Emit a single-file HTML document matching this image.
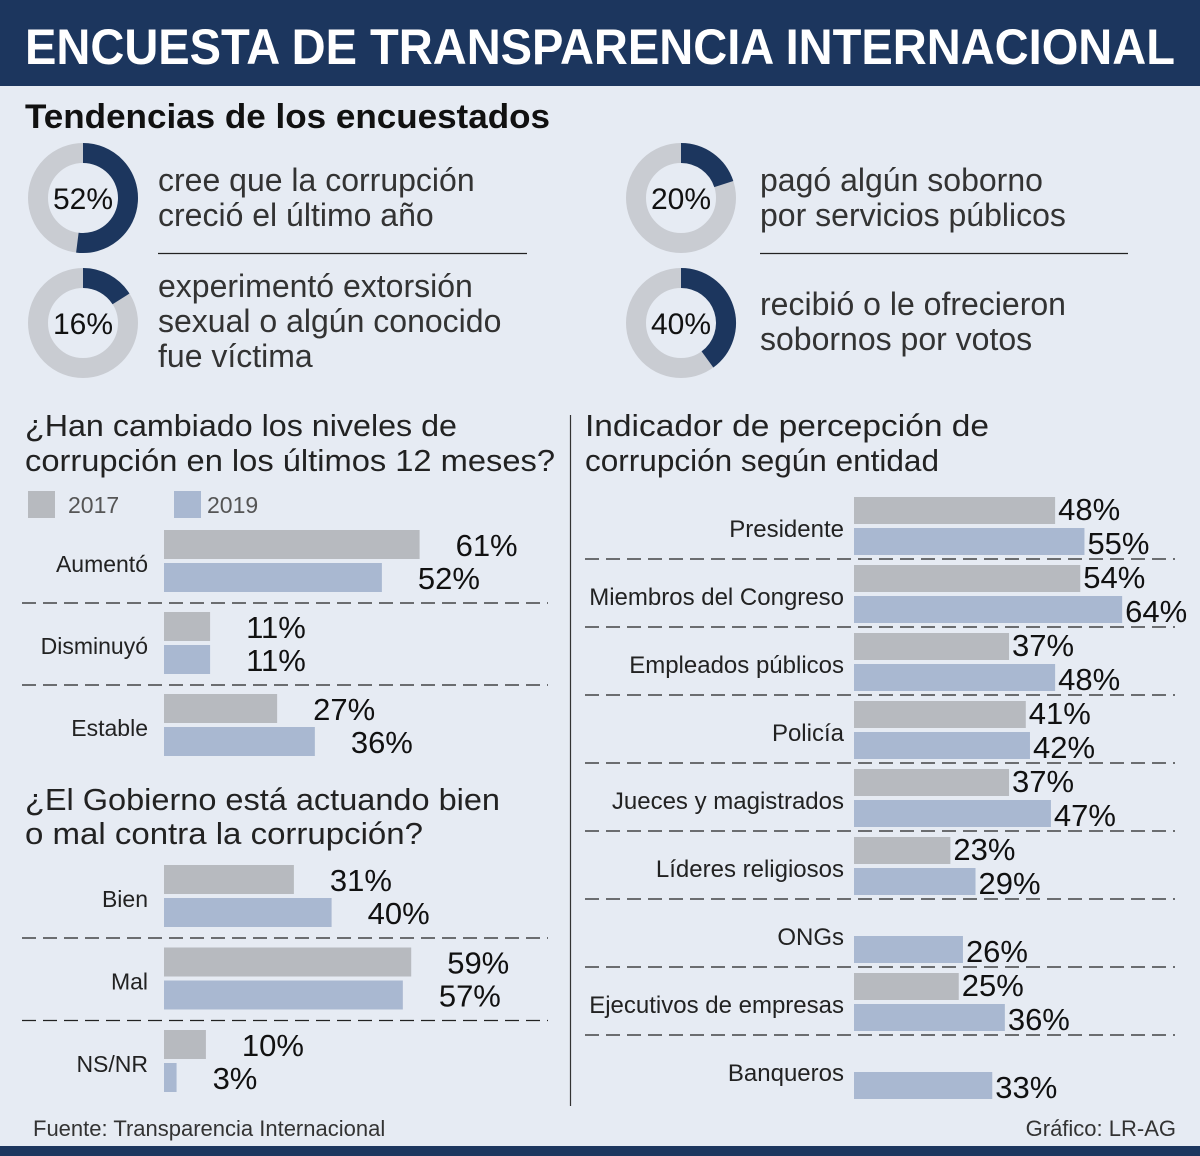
<!DOCTYPE html>
<html><head><meta charset="utf-8">
<style>
html,body{margin:0;padding:0;background:#e6ebf3;}
svg{display:block;font-family:"Liberation Sans",sans-serif;}
</style></head>
<body>
<svg id="s" width="1200" height="1156" viewBox="0 0 1200 1156">
<rect x="0" y="0" width="1200" height="1156" fill="#e6ebf3"/>
<rect x="0" y="0" width="1200" height="86" fill="#1c365e"/>
<text x="600" y="64" text-anchor="middle" fill="#fff" font-size="50" font-weight="bold" textLength="1150" lengthAdjust="spacingAndGlyphs">ENCUESTA DE TRANSPARENCIA INTERNACIONAL</text>
<text x="25" y="128" font-size="34" font-weight="bold" fill="#111" textLength="525" lengthAdjust="spacingAndGlyphs">Tendencias de los encuestados</text>
<line x1="158" y1="253.5" x2="527" y2="253.5" stroke="#222" stroke-width="1.2"/>
<line x1="760" y1="253.5" x2="1128" y2="253.5" stroke="#222" stroke-width="1.2"/>
<g id="donuts"></g>
<text font-size="31" fill="#222"><tspan x="25" y="436" textLength="432" lengthAdjust="spacingAndGlyphs">¿Han cambiado los niveles de</tspan><tspan x="25" y="471" textLength="530" lengthAdjust="spacingAndGlyphs">corrupción en los últimos 12 meses?</tspan></text>
<text font-size="31" fill="#222"><tspan x="25" y="810" textLength="475" lengthAdjust="spacingAndGlyphs">¿El Gobierno está actuando bien</tspan><tspan x="25" y="844" textLength="398" lengthAdjust="spacingAndGlyphs">o mal contra la corrupción?</tspan></text>
<text font-size="31" fill="#222"><tspan x="585" y="436" textLength="404" lengthAdjust="spacingAndGlyphs">Indicador de percepción de</tspan><tspan x="585" y="471" textLength="354" lengthAdjust="spacingAndGlyphs">corrupción según entidad</tspan></text>
<rect x="28" y="491" width="27" height="27" fill="#b7babf"/>
<text x="68" y="513" font-size="23" fill="#555">2017</text>
<rect x="174" y="491" width="27" height="27" fill="#a9b8d1"/>
<text x="207" y="513" font-size="23" fill="#555">2019</text>
<line x1="570.5" y1="415" x2="570.5" y2="1106" stroke="#333" stroke-width="1.2"/>
<g id="c1"></g><g id="c2"></g><g id="c3"></g>
<text x="33" y="1136" font-size="22" fill="#333">Fuente: Transparencia Internacional</text>
<text x="1176" y="1136" font-size="22" fill="#333" text-anchor="end">Gráfico: LR-AG</text>
<rect x="0" y="1146" width="1200" height="10" fill="#1c365e"/>
</svg>
<script>
const donutValues=[52,16,20,40];
const donutTexts=[["cree que la corrupción","creció el último año"],["experimentó extorsión","sexual o algún conocido","fue víctima"],["pagó algún soborno","por servicios públicos"],["recibió o le ofrecieron","sobornos por votos"]];
const c1Cats=["Aumentó","Disminuyó","Estable"];
const c1V2017=[61,11,27];
const c1V2019=[52,11,36];
const c2Cats=["Bien","Mal","NS/NR"];
const c2V2017=[31,59,10];
const c2V2019=[40,57,3];
const c3Cats=["Presidente","Miembros del Congreso","Empleados públicos","Policía","Jueces y magistrados","Líderes religiosos","ONGs","Ejecutivos de empresas","Banqueros"];
const c3V2017=[48,54,37,41,37,23,null,25,null];
const c3V2019=[55,64,48,42,47,29,26,36,33];

const NS="http://www.w3.org/2000/svg";
function mk(p,tag,a){const e=document.createElementNS(NS,tag);for(const k in a)e.setAttribute(k,a[k]);p.appendChild(e);return e;}
const GRAY="#b7babf",BLUE="#a9b8d1",NAVY="#1c365e";
const dg=document.getElementById('donuts');
const centers=[[83,198],[83,323],[681,198],[681,323]];
donutValues.forEach((v,i)=>{
  const [cx,cy]=centers[i];const r=45;
  const g=mk(dg,'g',{});
  
  
  mk(g,'circle',{cx,cy,r,fill:'none',stroke:'#c9ccd2','stroke-width':20});
  const a=v/100*2*Math.PI;
  const x2=cx+r*Math.sin(a),y2=cy-r*Math.cos(a);
  const arc=mk(g,'path',{d:`M${cx} ${cy-r} A${r} ${r} 0 ${v>50?1:0} 1 ${x2} ${y2}`,fill:'none',stroke:NAVY,'stroke-width':20});
  
  
  const t=mk(g,'text',{x:cx,y:cy+11,'text-anchor':'middle','font-size':30,fill:'#111'});t.textContent=v+'%';
  
  
  const tx=i<2?158:760;
  const lines=donutTexts[i];
  const y0=i<2?(i===0?191:297):(i===2?191:315);
  const tt=mk(g,'text',{'font-size':32,fill:'#333'});
  
  
  lines.forEach((l,j)=>{const s=mk(tt,'tspan',{x:tx,y:y0+j*35});s.textContent=l;});
});
const SC=4.19;
function chart(id,cats,a,b,x0,top,rowH,lx1,lx2,labelX,offset,gap,near,sepOff,catSize){
  const g=document.getElementById(id);
  
  
  cats.forEach((c,i)=>{
    const y=top+i*rowH;
    const lbl=mk(g,'text',{x:labelX,y:y+gap+9,'text-anchor':'end','font-size':catSize,fill:'#222'});lbl.textContent=c;
    
    
    [[a[i],GRAY,0],[b[i],BLUE,1]].forEach(([v,col,k])=>{
      if(v==null)return;
      const by=y+k*gap, bh=gap-4, w=v*SC;
      const r=mk(g,'rect',{x:x0,y:by,width:w,height:bh,fill:col});
      
      
      const t=mk(g,'text',{x:x0+w+offset,y:near?(k?by+bh-1:by+23):by+bh-3,'font-size':31,fill:'#111'});t.textContent=v+'%';
      
      
    });
    if(i<cats.length-1){
      const l=mk(g,'line',{x1:lx1,x2:lx2,y1:y+sepOff,y2:y+sepOff,stroke:'#222','stroke-width':1.2,'stroke-dasharray':'14 7'});
      
      
    }
  });
}
chart('c1',c1Cats,c1V2017,c1V2019,164,530,82,22,548,148,36,33,false,73,23);
chart('c2',c2Cats,c2V2017,c2V2019,164,865,82.5,22,548,148,36,33,false,73,23);
chart('c3',c3Cats,c3V2017,c3V2019,854,497,68,585,1175,844,3,31,true,62,24);
</script>
</body></html>
